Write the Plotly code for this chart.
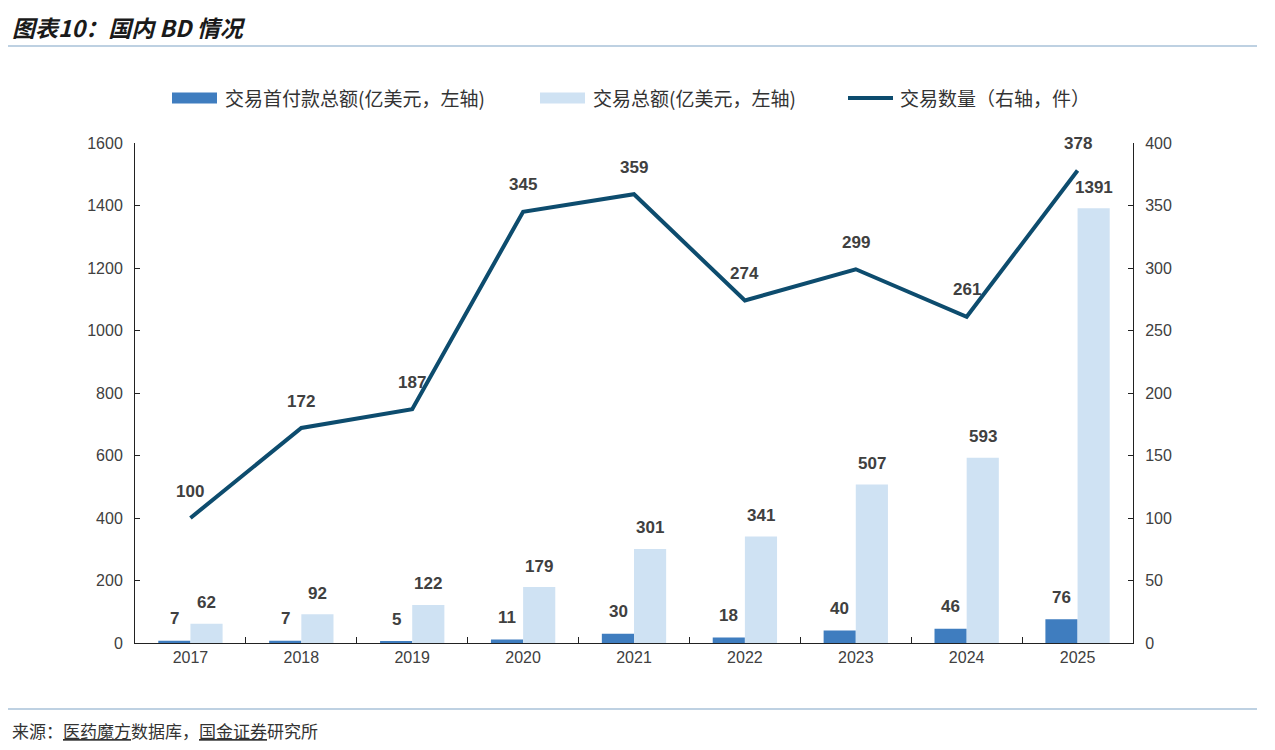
import plotly.graph_objects as go

years = ["2017", "2018", "2019", "2020", "2021", "2022", "2023", "2024", "2025"]
upfront = [7, 7, 5, 11, 30, 18, 40, 46, 76]
total = [62, 92, 122, 179, 301, 341, 507, 593, 1391]
count = [100, 172, 187, 345, 359, 274, 299, 261, 378]

series_names = ["交易首付款总额(亿美元，左轴)", "交易总额(亿美元，左轴)", "交易数量（右轴，件）"]

left_ticks = [0, 200, 400, 600, 800, 1000, 1200, 1400, 1600]
right_ticks = [0, 50, 100, 150, 200, 250, 300, 350, 400]

W, H = 1275, 750
L, R, T, B = 135, 1133, 143, 643

def px(x):
    return (x - L) / (R - L)

def py(y):
    return (B - y) / (B - T)

DARK = "#3f7dbf"
LIGHT = "#cfe2f3"
LINE = "#0d4c6e"
TXT = "#404040"
NUMF = "Liberation Sans, Arial, sans-serif"
CJK = "Noto Sans CJK SC, sans-serif"

fig = go.Figure()
fig.add_trace(go.Bar(x=years, y=upfront, name=series_names[0], marker_color=DARK,
                     marker_line_width=0, yaxis="y"))
fig.add_trace(go.Bar(x=years, y=total, name=series_names[1], marker_color=LIGHT,
                     marker_line_width=0, yaxis="y"))
fig.add_trace(go.Scatter(x=years, y=count, name=series_names[2], mode="lines",
                         line=dict(color=LINE, width=4), yaxis="y2"))

ann = []
for i in range(len(years)):
    ann.append(dict(x=i, y=upfront[i], xref="x", yref="y", text=str(upfront[i]), showarrow=False,
                    xshift=-16, yshift=22, font=dict(family=NUMF, size=17, color=TXT, weight="bold")))
    ann.append(dict(x=i, y=total[i], xref="x", yref="y", text=str(total[i]), showarrow=False,
                    xshift=16, yshift=21, font=dict(family=NUMF, size=17, color=TXT, weight="bold")))
    ann.append(dict(x=i, y=count[i], xref="x", yref="y2", text=str(count[i]), showarrow=False,
                    yshift=27, font=dict(family=NUMF, size=17, color=TXT, weight="bold")))

ann.append(dict(x=px(10), y=py(27), xref="paper", yref="paper", xanchor="left", yanchor="middle",
                text="图表10：国内 BD 情况", showarrow=False,
                font=dict(family=CJK, size=23, color="#1a1a1a", style="italic", weight="bold")))
ann.append(dict(x=px(10), y=py(730), xref="paper", yref="paper", xanchor="left", yanchor="middle",
                text="来源：<u>医药魔方</u>数据库，<u>国金证券</u>研究所", showarrow=False,
                font=dict(family=CJK, size=17, color="#333333")))

shapes = [
    dict(type="line", xref="paper", yref="paper", x0=px(8), x1=px(1257), y0=py(46), y1=py(46),
         line=dict(color="#a9c2d8", width=1.5)),
    dict(type="line", xref="paper", yref="paper", x0=px(8), x1=px(1257), y0=py(709), y1=py(709),
         line=dict(color="#a9c2d8", width=1.5)),
]

# manual legend (wide swatches like the reference)
leg_y = 98
leg_items = [
    (172, 217, "rect", DARK, series_names[0], 223),
    (540, 585, "rect", LIGHT, series_names[1], 591),
    (848, 893, "line", LINE, series_names[2], 898),
]
for x0, x1, kind, col, name, tx in leg_items:
    if kind == "rect":
        shapes.append(dict(type="rect", xref="paper", yref="paper", x0=px(x0), x1=px(x1),
                           y0=py(leg_y + 5.5), y1=py(leg_y - 5.5), fillcolor=col, line=dict(width=0)))
    else:
        shapes.append(dict(type="line", xref="paper", yref="paper", x0=px(x0), x1=px(x1),
                           y0=py(leg_y), y1=py(leg_y), line=dict(color=col, width=4)))
    ann.append(dict(x=px(tx), y=py(leg_y), xref="paper", yref="paper", xanchor="left", yanchor="middle",
                    text=name, showarrow=False, font=dict(family=CJK, size=19, color="#333333")))

fig.update_layout(
    width=W, height=H,
    margin=dict(l=L, r=W - R, t=T, b=H - B, autoexpand=False),
    paper_bgcolor="white", plot_bgcolor="white",
    barmode="group", bargap=0.42, bargroupgap=0,
    showlegend=False,
    xaxis=dict(type="category", range=[-0.5, len(years) - 0.5], showline=True,
               linecolor="#222222", linewidth=1, tickangle=0,
               ticks="inside", tickson="boundaries", ticklen=6, tickcolor="#222222",
               tickfont=dict(family=NUMF, size=16, color=TXT), showgrid=False, zeroline=False),
    yaxis=dict(range=[0, 1600], tickvals=left_ticks, showline=True, linecolor="#222222", linewidth=1,
               ticks="inside", ticklen=5, tickcolor="#222222", showgrid=False, zeroline=False,
               tickfont=dict(family=NUMF, size=16, color=TXT), ticklabelstandoff=8),
    yaxis2=dict(range=[0, 400], tickvals=right_ticks, overlaying="y", side="right", showline=True,
                linecolor="#222222", linewidth=1, ticks="inside", ticklen=5, tickcolor="#222222",
                showgrid=False, zeroline=False, tickfont=dict(family=NUMF, size=16, color=TXT),
                ticklabelstandoff=8),
    annotations=ann,
    shapes=shapes,
)

fig.write_html("out.html")
